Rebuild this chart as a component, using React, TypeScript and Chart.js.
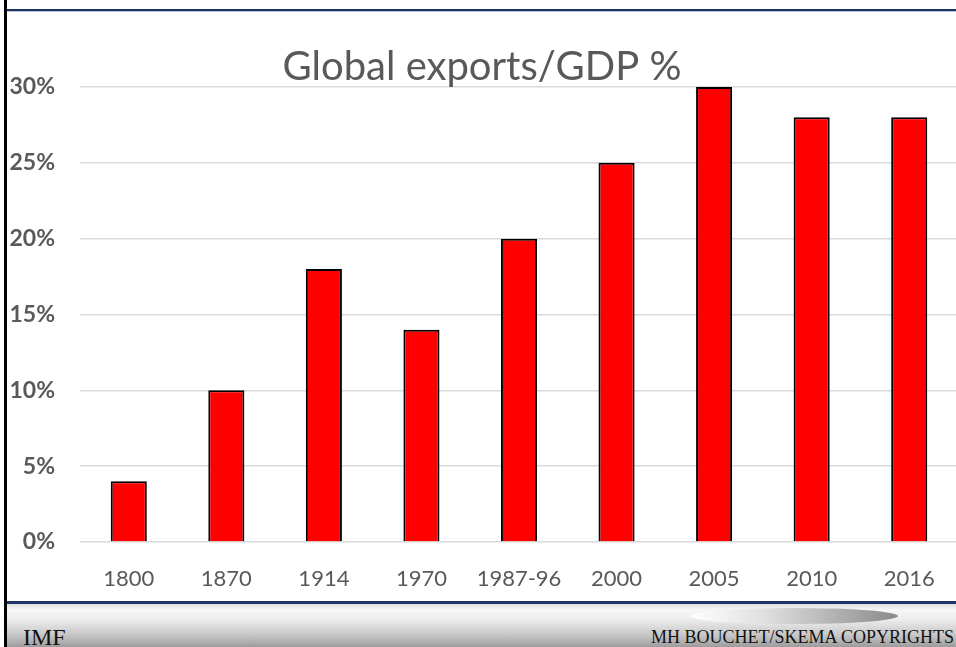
import React, { useEffect, useRef } from "react";
import { Chart, registerables } from "chart.js";

Chart.register(...registerables);

const categories = ["1800", "1870", "1914", "1970", "1987-96", "2000", "2005", "2010", "2016"];
const exportsGdp = [4, 10, 18, 14, 20, 25, 30, 28, 28];
const yTicks = [0, 5, 10, 15, 20, 25, 30];
const titleText = "Global exports/GDP %";
const sourceText = "IMF";
const copyrightText = "MH BOUCHET/SKEMA COPYRIGHTS";

const GREY = "#595959";

export default function App() {
  const ref = useRef<HTMLCanvasElement | null>(null);

  useEffect(() => {
    if (!ref.current) return;
    const chart = new Chart(ref.current, {
      type: "bar",
      data: {
        labels: categories,
        datasets: [
          {
            data: exportsGdp,
            backgroundColor: "#ff0000",
            borderColor: "#000000",
            borderWidth: 2,
            barPercentage: 0.37,
            categoryPercentage: 1,
          },
        ],
      },
      options: {
        animation: false,
        responsive: false,
        maintainAspectRatio: false,
        layout: { padding: { left: 6, right: 2, top: 0, bottom: 0 } },
        plugins: {
          legend: { display: false },
          tooltip: { enabled: false },
          title: {
            display: true,
            text: titleText,
            color: GREY,
            font: { family: "Lato", size: 40, weight: "normal", lineHeight: 1.0 },
            padding: { top: 35, bottom: 0 },
          },
        },
        scales: {
          x: {
            grid: { display: false, drawTicks: false },
            border: { display: false },
            ticks: {
              color: GREY,
              font: { family: "Lato", size: 22 },
              padding: 24,
              maxRotation: 0,
              autoSkip: false,
            },
            afterFit: (s: any) => {
              s.height = 58;
            },
          },
          y: {
            min: yTicks[0],
            max: yTicks[yTicks.length - 1],
            grid: { color: "#d9d9d9", lineWidth: 1.5, drawTicks: false },
            border: { display: false },
            afterBuildTicks: (s: any) => {
              s.ticks = yTicks.map((v) => ({ value: v }));
            },
            ticks: {
              color: GREY,
              font: { family: "Lato", size: 23, weight: "bold" },
              padding: 25,
              callback: (v: any) => `${v}%`,
            },
            afterFit: (s: any) => {
              s.width = 74;
            },
          },
        },
      },
    });
    return () => chart.destroy();
  }, []);

  return (
    <div
      style={{
        position: "fixed",
        left: 0,
        top: 0,
        width: 956,
        height: 647,
        background: "#ffffff",
        overflow: "hidden",
      }}
    >
      <div style={{ position: "absolute", left: 7, top: 9, width: 949, height: 2, background: "#1c3766" }} />
      <div style={{ position: "absolute", left: 7, top: 11, width: 949, height: 1, background: "#b8c4d8" }} />
      <canvas
        ref={ref}
        width={960}
        height={588}
        style={{ position: "absolute", left: 0, top: 12, width: 960, height: 588 }}
      />
      <div style={{ position: "absolute", left: 7, top: 601, width: 949, height: 3, background: "#1c3766" }} />
      <div
        style={{
          position: "absolute",
          left: 7,
          top: 604,
          width: 949,
          height: 43,
          background: "linear-gradient(to bottom, #dcdcdc 0px, #f7f7f7 6px, #ececec 16px, #c4c4c4 32px, #9c9c9c 43px)",
        }}
      />
      <div
        style={{
          position: "absolute",
          left: 690,
          top: 608,
          width: 208,
          height: 16,
          borderRadius: "50%",
          background: "linear-gradient(to right, #ffffff 0%, #e0e0e0 35%, #8a8a8a 100%)",
        }}
      />
      <div
        style={{
          position: "absolute",
          left: 23,
          top: 623,
          fontFamily: "'Liberation Serif', 'Times New Roman', serif",
          fontSize: 24,
          lineHeight: "28px",
          color: "#111",
        }}
      >
        {sourceText}
      </div>
      <div
        style={{
          position: "absolute",
          right: 2,
          top: 626,
          fontFamily: "'Liberation Serif', 'Times New Roman', serif",
          fontSize: 18,
          lineHeight: "22px",
          color: "#111",
          whiteSpace: "nowrap",
        }}
      >
        {copyrightText}
      </div>
      <div style={{ position: "absolute", left: 4, top: 0, width: 3, height: 647, background: "#000000" }} />
    </div>
  );
}
